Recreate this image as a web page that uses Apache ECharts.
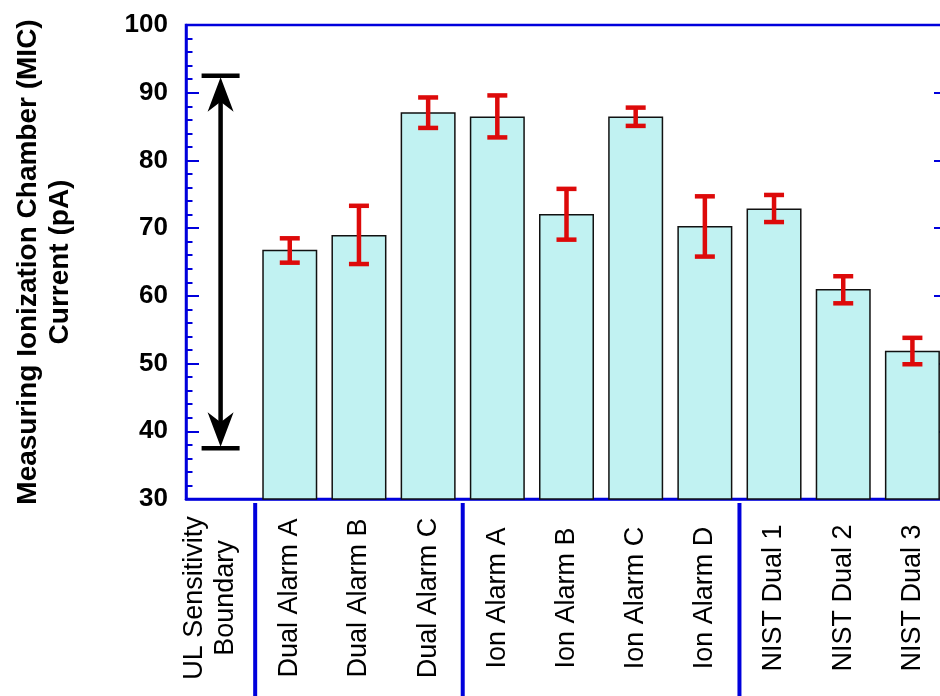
<!DOCTYPE html>
<html>
<head>
<meta charset="utf-8">
<style>
  html, body { margin: 0; padding: 0; background: #ffffff; overflow: hidden; }
  #chart { width: 947px; height: 696px; }
</style>
<script src="https://cdn.jsdelivr.net/npm/echarts@6/dist/echarts.min.js"></script>
</head>
<body>
<div id="chart"></div>
<script>
// Alarm groups along the x axis
const categories = [
  'UL Sensitivity\nBoundary',
  'Dual Alarm A', 'Dual Alarm B', 'Dual Alarm C',
  'Ion Alarm A', 'Ion Alarm B', 'Ion Alarm C', 'Ion Alarm D',
  'NIST Dual 1', 'NIST Dual 2', 'NIST Dual 3'
];

// Mean MIC current at alarm (pA); the UL column has no bar
const meanCurrent = [null, 66.8, 69.0, 87.1, 86.5, 72.1, 86.5, 70.3, 72.9, 61.0, 51.9];

// Spread of the alarm current (pA)
const errLow  = [null, 64.9, 64.7, 84.8, 83.4, 68.3, 85.1, 65.8, 70.9, 58.9, 49.9];
const errHigh = [null, 68.5, 73.3, 89.3, 89.6, 75.8, 87.8, 74.7, 74.9, 62.9, 53.8];

// UL 217 sensitivity window (pA)
const ulRange = [37.5, 92.5];

// First category of each alarm group after the first
const groupStarts = [1, 4, 8];

// Y axis ticks
const yMin = 30, yMax = 100, yStep = 10;

const BLUE = '#0000dc';
const RED = '#dd0a0a';
const FONT = '"Liberation Sans", Arial, Helvetica, sans-serif';

const errData = [];
for (let i = 0; i < categories.length; i++) {
  if (errLow[i] != null) errData.push([i, errLow[i], errHigh[i]]);
}

function renderError(params, api) {
  const lo = api.coord([api.value(0), api.value(1)]);
  const hi = api.coord([api.value(0), api.value(2)]);
  const x = lo[0], half = 10;
  const st = { stroke: RED, lineWidth: 4.5 };
  return {
    type: 'group',
    children: [
      { type: 'line', shape: { x1: x, y1: lo[1], x2: x, y2: hi[1] }, style: st },
      { type: 'line', shape: { x1: x - half, y1: hi[1], x2: x + half, y2: hi[1] }, style: st },
      { type: 'line', shape: { x1: x - half, y1: lo[1], x2: x + half, y2: lo[1] }, style: st }
    ]
  };
}

function renderRange(params, api) {
  const lo = api.coord([api.value(0), api.value(1)]);
  const hi = api.coord([api.value(0), api.value(2)]);
  const x = lo[0], capHalf = 19, hw = 13;
  const st = { stroke: '#000', lineWidth: 4.5 };
  const fill = { fill: '#000' };
  return {
    type: 'group',
    children: [
      { type: 'line', shape: { x1: x, y1: hi[1] + 24, x2: x, y2: lo[1] - 24 }, style: st },
      { type: 'line', shape: { x1: x - capHalf, y1: hi[1], x2: x + capHalf, y2: hi[1] }, style: st },
      { type: 'line', shape: { x1: x - capHalf, y1: lo[1], x2: x + capHalf, y2: lo[1] }, style: st },
      { type: 'polygon', shape: { points: [[x, hi[1] + 1.5], [x + hw, hi[1] + 36], [x, hi[1] + 26], [x - hw, hi[1] + 36]] }, style: fill },
      { type: 'polygon', shape: { points: [[x, lo[1] - 1.5], [x + hw, lo[1] - 36], [x, lo[1] - 26], [x - hw, lo[1] - 36]] }, style: fill }
    ]
  };
}

function renderGroupDivider(params, api) {
  const c = api.coord([api.value(0), yMin]);
  const band = api.size([1, 0])[0];
  const x = c[0] - band / 2;
  return {
    type: 'line',
    shape: { x1: x, y1: c[1] + 4, x2: x, y2: c[1] + 200 },
    style: { stroke: BLUE, lineWidth: 4 }
  };
}

// Two-line labels sit a little toward the top of the text
function categoryLabel(value) {
  const lines = value.split('\n');
  if (lines.length === 1) return value;
  return lines.map(l => '{t|' + l + '}').join('\n') + '\n{gap| }';
}

const chart = echarts.init(document.getElementById('chart'), null, { renderer: 'canvas' });

chart.setOption({
  animation: false,
  backgroundColor: '#ffffff',
  textStyle: { fontFamily: FONT },
  grid: {
    left: 186, right: 0, top: 25, bottom: 197,
    containLabel: false,
    outerBoundsMode: 'none',
    show: true, borderColor: BLUE, borderWidth: 2.5, backgroundColor: 'transparent'
  },
  xAxis: {
    type: 'category',
    data: categories,
    boundaryGap: true,
    axisLine: { show: true, lineStyle: { color: BLUE, width: 2.5 } },
    axisTick: { show: false },
    axisLabel: {
      interval: 0,
      rotate: 90,
      align: 'center',
      verticalAlign: 'middle',
      margin: 99,
      fontSize: 27,
      lineHeight: 31,
      color: '#000',
      fontFamily: FONT,
      formatter: categoryLabel,
      rich: {
        t: { fontSize: 27, lineHeight: 31, color: '#000', fontFamily: FONT, align: 'center' },
        gap: { fontSize: 10, lineHeight: 22 }
      }
    },
    splitLine: { show: false }
  },
  yAxis: [
    {
      type: 'value',
      position: 'left',
      min: yMin, max: yMax, interval: yStep,
      name: 'Measuring Ionization Chamber (MIC)\nCurrent (pA)',
      nameLocation: 'middle',
      nameGap: 110,
      nameTextStyle: { fontSize: 28, fontWeight: 'bold', color: '#000', lineHeight: 32, fontFamily: FONT },
      axisLine: { show: true, lineStyle: { color: BLUE, width: 2.5 } },
      axisTick: { show: true, inside: true, length: 13, lineStyle: { color: BLUE, width: 2 } },
      minorTick: { show: true, splitNumber: 5, length: 6.5, lineStyle: { color: BLUE, width: 2 } },
      axisLabel: { fontSize: 26, fontWeight: 'bold', color: '#000', margin: 18, fontFamily: FONT, padding: [0, 0, 6, 0] },
      splitLine: { show: false }
    },
    {
      type: 'value',
      position: 'right',
      min: yMin, max: yMax, interval: yStep,
      axisLine: { show: true, lineStyle: { color: BLUE, width: 2.5 } },
      axisTick: { show: true, inside: true, length: 13, lineStyle: { color: BLUE, width: 2 } },
      axisLabel: { show: false },
      splitLine: { show: false }
    }
  ],
  series: [
    {
      name: 'MIC current',
      type: 'bar',
      data: meanCurrent,
      barWidth: 55,
      itemStyle: { color: '#c1f2f2', borderColor: '#111', borderWidth: 1.5 },
      z: 2
    },
    {
      name: 'Spread',
      type: 'custom',
      data: errData,
      renderItem: renderError,
      encode: { x: 0, y: [1, 2] },
      z: 5
    },
    {
      name: 'UL range',
      type: 'custom',
      data: [[0, ulRange[0], ulRange[1]]],
      renderItem: renderRange,
      encode: { x: 0, y: [1, 2] },
      z: 5
    },
    {
      name: 'Groups',
      type: 'custom',
      data: groupStarts.map(i => [i]),
      renderItem: renderGroupDivider,
      encode: { x: 0 },
      clip: false,
      z: 5
    }
  ]
});
</script>
</body>
</html>
